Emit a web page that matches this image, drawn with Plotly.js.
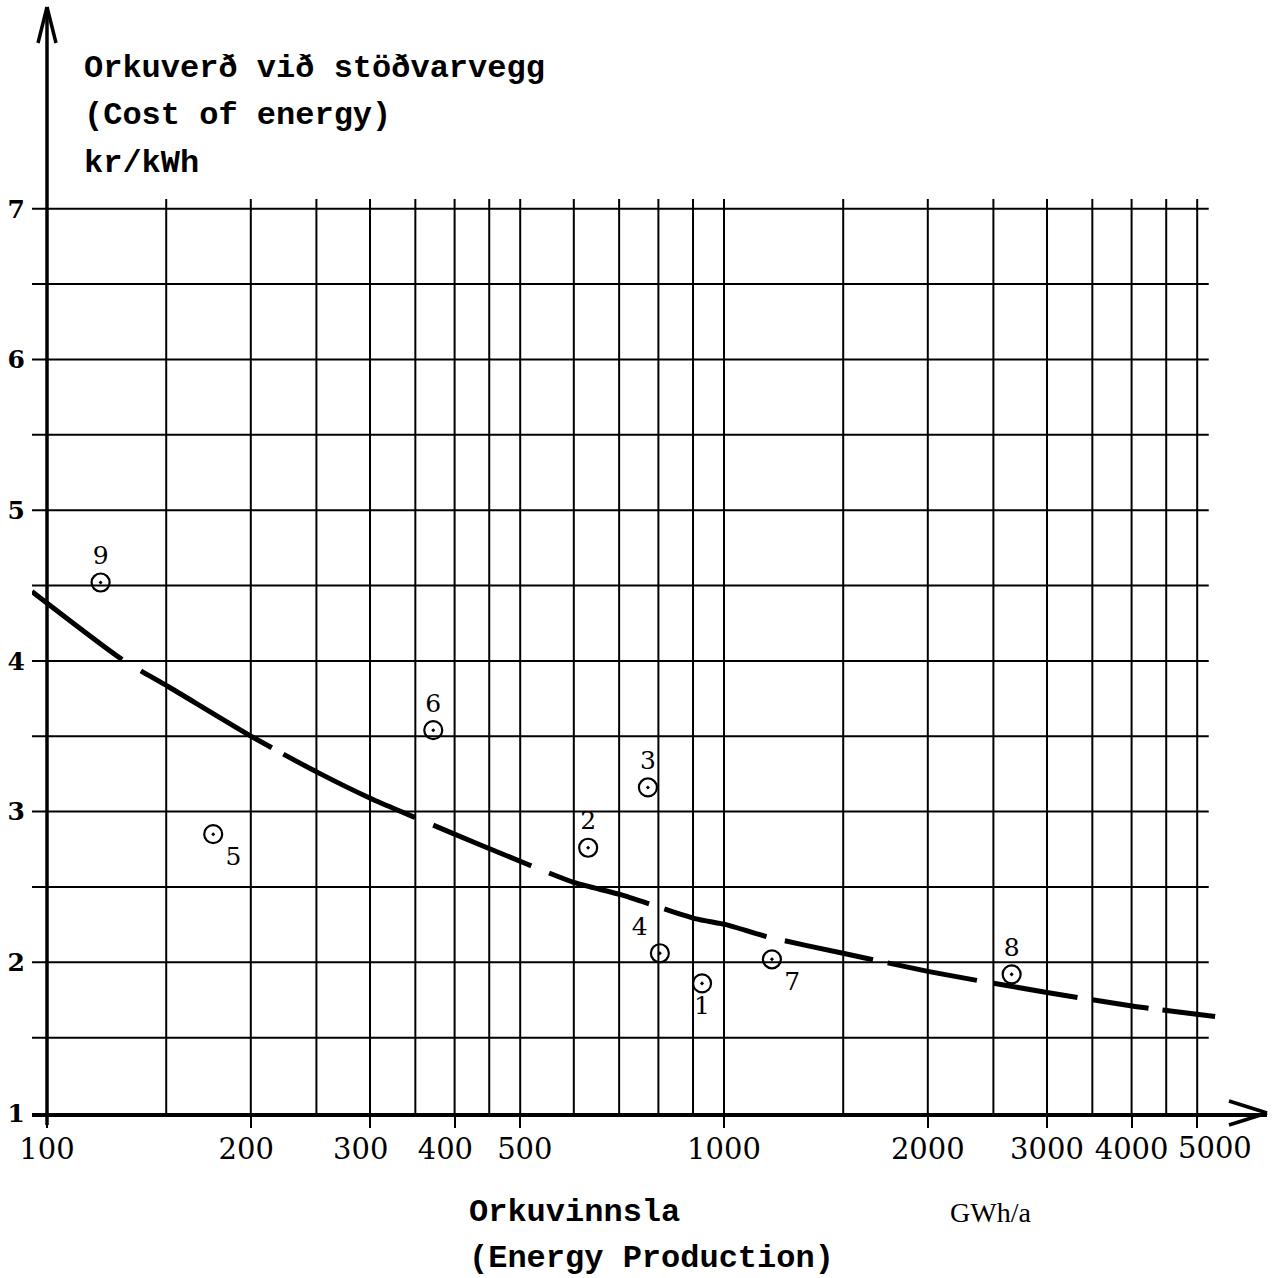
<!DOCTYPE html>
<html>
<head>
<meta charset="utf-8">
<script src="https://cdn.plot.ly/plotly-3.0.1.min.js"></script>
<style>html,body{margin:0;padding:0;background:#fff;}#chart{width:1275px;height:1278px;}</style>
</head>
<body>
<div id="chart"></div>
<script>
// ---- data ----
const plantIds   = ["1","2","3","4","5","6","7","8","9"];
const plantGWh   = [928, 630, 772, 804, 176, 372, 1177, 2660, 120];
const plantCost  = [1.86, 2.76, 3.16, 2.06, 2.85, 3.54, 2.02, 1.92, 4.52];

const curveGWh  = [95, 129, 151, 202, 251, 303, 350, 436, 600, 702, 906, 1007, 1157, 1499, 2001, 2364, 3000, 4005, 5314];
const curveCost = [4.46, 4.01, 3.83, 3.49, 3.26, 3.08, 2.96, 2.78, 2.53, 2.45, 2.29, 2.25, 2.17, 2.06, 1.94, 1.88, 1.80, 1.71, 1.64];

const xTickVals  = [100, 200, 300, 400, 500, 1000, 2000, 3000, 4000, 5000];
const xTickText  = ["100","200","300","400","500","1000","2000","3000","4000","5000"];
const yTickVals  = [1, 2, 3, 4, 5, 6, 7];
const yTickText  = ["1","2","3","4","5","6","7"];

const xGridVals = [150,200,250,300,350,400,450,500,600,700,800,900,1000,1500,2000,2500,3000,3500,4000,4500,5000];
const yGridVals = [1.5,2,2.5,3,3.5,4,4.5,5,5.5,6,6.5,7];

// ---- styling constants ----
const INK = "#000";
const mono = "Liberation Mono, DejaVu Sans Mono, monospace";
const serif = "DejaVu Serif, serif";
const gridTopY = 7.065, gridLeftX = 94.5, gridRightX = 5200;
const NB = "\u00a0";
// small hand-typed offsets of some tick labels in the original (padding only)
const tickPad = {"200": [0,1], "300": [0,2], "400": [0,2], "500": [1,0]};
// the last label is typed right of its tick in the original: drawn as an annotation at that tick
const shiftedTick = "5000";
const xTickShown = xTickText.map(t => {
  if (t === shiftedTick) return "";
  const p = tickPad[t] || [0,0];
  return NB.repeat(p[0]) + t + NB.repeat(p[1]);
});

const labelPos = ["bottom center","top center","top center","top left","bottom right","top center","bottom right","top center","top center"];

const traces = [
  {
    x: curveGWh, y: curveCost, type: "scatter", mode: "lines",
    line: {color: INK, width: 5, shape: "spline", smoothing: 0.6,
           dash: "113px,22px,152px,13px,146px,20px,106px,19px,105px,16px,106px,19px,90px,15px,91px,17px,85px,15px,57px,14px,60px,60px"},
    hoverinfo: "skip"
  },
  {
    x: plantGWh, y: plantCost, text: plantIds, type: "scatter", mode: "markers+text",
    marker: {symbol: "circle-open-dot", size: 18, color: INK, line: {color: INK, width: 2.2}},
    textposition: labelPos,
    textfont: {family: serif, size: 25, color: INK}
  }
];

const shapes = [];
xGridVals.forEach(v => shapes.push({type:"line", layer:"below", xref:"x", yref:"y", x0:v, x1:v, y0:1, y1:gridTopY, line:{color:INK, width:2}}));
yGridVals.forEach(v => shapes.push({type:"line", layer:"below", xref:"x", yref:"y", x0:gridLeftX, x1:gridRightX, y0:v, y1:v, line:{color:INK, width:2}}));
// y axis line with arrow head (anchored at x = 100 on the plot's paper frame)
const yAxisPaperX = 0.01215, yTipPaper = 0.9982;
shapes.push({type:"line", xref:"x", yref:"paper", x0:100, x1:100, y0:-0.0108, y1:yTipPaper, line:{color:INK, width:3.5}});
shapes.push({type:"line", xref:"paper", xsizemode:"pixel", xanchor:yAxisPaperX, x0:0, x1:-9, yref:"paper", ysizemode:"pixel", yanchor:yTipPaper, y0:0, y1:-36, line:{color:INK, width:3.5}});
shapes.push({type:"line", xref:"paper", xsizemode:"pixel", xanchor:yAxisPaperX, x0:0, x1:9, yref:"paper", ysizemode:"pixel", yanchor:yTipPaper, y0:0, y1:-36, line:{color:INK, width:3.5}});
// x axis arrow head
shapes.push({type:"line", xref:"paper", xsizemode:"pixel", xanchor:1, x0:0, x1:-38, yref:"paper", ysizemode:"pixel", yanchor:0, y0:0, y1:12, line:{color:INK, width:3.5}});
shapes.push({type:"line", xref:"paper", xsizemode:"pixel", xanchor:1, x0:0, x1:-38, yref:"paper", ysizemode:"pixel", yanchor:0, y0:0, y1:-12, line:{color:INK, width:3.5}});

const ann = (text, x, y, font) => ({text, x, y, xref:"paper", yref:"paper", xanchor:"left", yanchor:"middle", showarrow:false, font});
const titleFont = {family: mono, size: 32, color: INK, weight: "bold"};
const tickFont = {family: serif, size: 29, color: INK};
const annotations = [
  ann("Orkuverð við stöðvarvegg", 0.0405, 0.9431, titleFont),
  ann("(Cost of energy)", 0.0405, 0.9007, titleFont),
  ann("kr/kWh", 0.0405, 0.8565, titleFont),
  ann("Orkuvinnsla", 0.352, -0.0894, titleFont),
  ann("(Energy Production)", 0.352, -0.1309, titleFont),
  ann("GWh/a", 0.7417, -0.0894, {family: "Liberation Serif, serif", size: 28, color: INK}),
  {text: shiftedTick, x: Math.log10(xTickVals[xTickText.indexOf(shiftedTick)]), xref: "x",
   y: -0.0316, yref: "paper", xanchor: "center", yanchor: "middle", xshift: 18,
   showarrow: false, font: tickFont}
];

const layout = {
  width: 1275, height: 1278,
  margin: {l: 32, r: 8, t: 5, b: 165, pad: 0},
  paper_bgcolor: "#fff", plot_bgcolor: "#fff",
  showlegend: false,
  xaxis: {
    type: "log", range: [1.97784, 3.80207],
    tickvals: xTickVals, ticktext: xTickShown, tickangle: 0,
    showgrid: false, zeroline: false,
    showline: true, linecolor: INK, linewidth: 3.5,
    ticks: "outside", ticklen: 11, tickwidth: 2, tickcolor: INK,
    tickfont: tickFont,
    ticklabelstandoff: -3
  },
  yaxis: {
    range: [1, 8.352],
    tickvals: yTickVals, ticktext: yTickText,
    showgrid: false, zeroline: false, showline: false,
    ticks: "", tickfont: {family: serif, size: 25, color: INK, weight: "bold"},
    ticklabelstandoff: 6
  },
  shapes, annotations
};

Plotly.newPlot("chart", traces, layout, {staticPlot: true, displayModeBar: false});
</script>
</body>
</html>
